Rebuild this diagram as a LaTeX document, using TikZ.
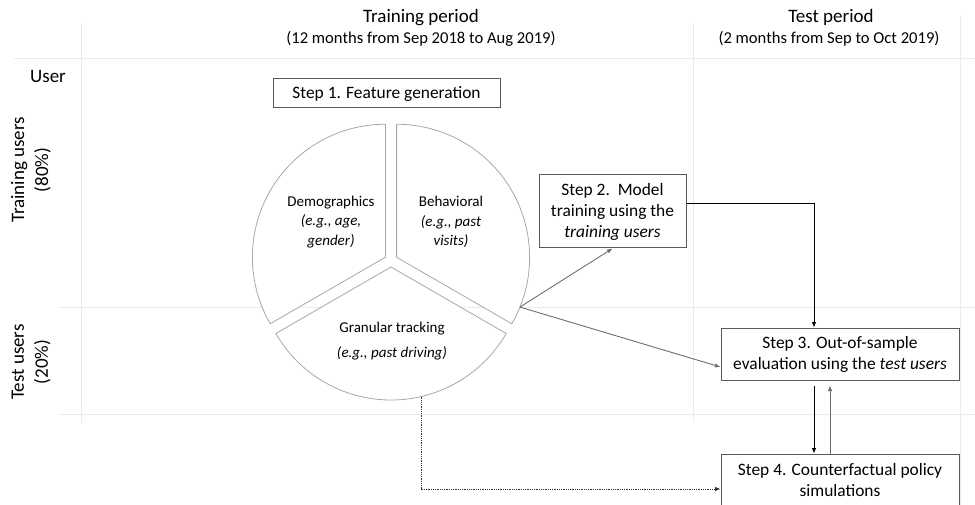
\documentclass[tikz,border=0pt]{standalone}
\usepackage{fontspec}
\setmainfont{Carlito}
\usetikzlibrary{arrows.meta,calc}
\definecolor{gridgray}{HTML}{EBEBEB}
\definecolor{piegray}{HTML}{A8A8A8}
\definecolor{boxgray}{HTML}{5A5A5A}
\definecolor{arrgray}{HTML}{6E6E6E}
\tikzset{
  gridline/.style={draw=gridgray, line width=0.8pt},
  sector/.style={draw=piegray, line width=0.8pt, fill=white},
  stepbox/.style={draw=boxgray, line width=1pt, fill=white, align=center,
    font=\fontsize{17.4}{21}\selectfont, inner sep=0pt},
  pietext/.style={align=center, font=\fontsize{15}{19.5}\selectfont},
  header/.style={font=\fontsize{19}{23}\selectfont, anchor=base},
  subheader/.style={font=\fontsize{16.6}{20}\selectfont, anchor=base},
  sidelabel/.style={align=center, rotate=90, font=\fontsize{19}{24}\selectfont},
  tip/.style={-{Latex[length=5.5pt,width=4.5pt]}},
  flow/.style={tip, draw=arrgray, line width=0.9pt},
  darkflow/.style={tip, draw=black, line width=0.8pt},
}
\begin{document}
\begin{tikzpicture}[x=1pt,y=-1pt]
\useasboundingbox (0,0) rectangle (975,505);

% table grid
\draw[gridline] (81,23) -- (81,423);
\draw[gridline] (693,23) -- (693,422);
\draw[gridline] (960,15) -- (960,505);
\draw[gridline] (14,58) -- (975,58);
\draw[gridline] (58,307) -- (975,307);
\draw[gridline] (58,414) -- (975,414);

% column and row headings
\node[header] (trainhead) at (421,23) {Training period};
\node[subheader] (trainsub) at (421,44) {(12 months from Sep 2018 to Aug 2019)};
\node[header] (testhead) at (831,23) {Test period};
\node[subheader] (testsub) at (829,44) {(2 months from Sep to Oct 2019)};
\node[header] (userhead) at (48,83) {User};
\node[sidelabel] (trainusers) at (31,170) {Training users\\(80\%)};
\node[sidelabel] (testusers) at (31,362) {Test users\\(20\%)};

% step 1
\node[stepbox, minimum width=227pt, minimum height=29pt] (s1) at (386.5,93.5) {Step 1. Feature generation};

% exploded pie of feature groups
\begin{scope}[shift={(391,260.5)}, y=1pt]
  \def\pr{133}
  \draw[sector] (-5.6,3.25) -- ++(90:\pr) arc[start angle=90, end angle=210, radius=\pr] -- cycle;
  \draw[sector] (5.6,3.25) -- ++(-30:\pr) arc[start angle=-30, end angle=90, radius=\pr] -- cycle;
  \draw[sector] (0,-6.5) -- ++(210:\pr) arc[start angle=210, end angle=330, radius=\pr] -- cycle;
  \coordinate (pieout) at ($(5.6,3.25)+(-22:\pr)$);
  \coordinate (piebot) at ($(0,-6.5)+(-77:\pr)$);
\end{scope}
\node[pietext] (demo) at (331,222) {Demographics\\\textit{(e.g., age,}\\\textit{gender)}};
\node[pietext] (behav) at (451,222) {Behavioral\\\textit{(e.g., past}\\\textit{visits)}};
\node[pietext, anchor=base] (gran) at (392,332) {Granular tracking};
\node[pietext, anchor=base] (granex) at (392,357) {\textit{(e.g., past driving)}};

% steps 2-4
\node[stepbox, minimum width=147pt, minimum height=73pt] (s2) at (612.5,211.5) {Step 2.\ \ Model\\training using the\\\textit{training users}};
\node[stepbox, minimum width=238pt, minimum height=52pt] (s3) at (840,354) {Step 3. Out-of-sample\\evaluation using the \textit{test users}};
\node[stepbox, minimum width=238pt, minimum height=62pt] (s4) at (840,485) {};
\node[align=center, font=\fontsize{17.4}{21}\selectfont, anchor=north] (s4text) at (840,460) {Step 4. Counterfactual policy\\simulations};

% connectors (y axis points down, so a negative yshift moves down the page)
\coordinate (s2corner) at (814,203);
\draw[flow] (pieout) -- (s2.south);
\draw[flow] (pieout) -- ([yshift=-13pt]s3.west);
\draw[darkflow] (s2.east |- s2corner) -- (s2corner) -- (s3.north -| s2corner);
\draw[darkflow] ([xshift=-26pt,yshift=-5pt]s3.south) -- ([xshift=-26pt]s4.north);
\draw[flow] ([xshift=-10pt]s4.north) -- ([xshift=-10pt,yshift=-5pt]s3.south);
\draw[tip, densely dotted, draw=black!80, line width=0.8pt] (piebot) |- ([yshift=-4pt]s4.west);
\end{tikzpicture}
\end{document}
